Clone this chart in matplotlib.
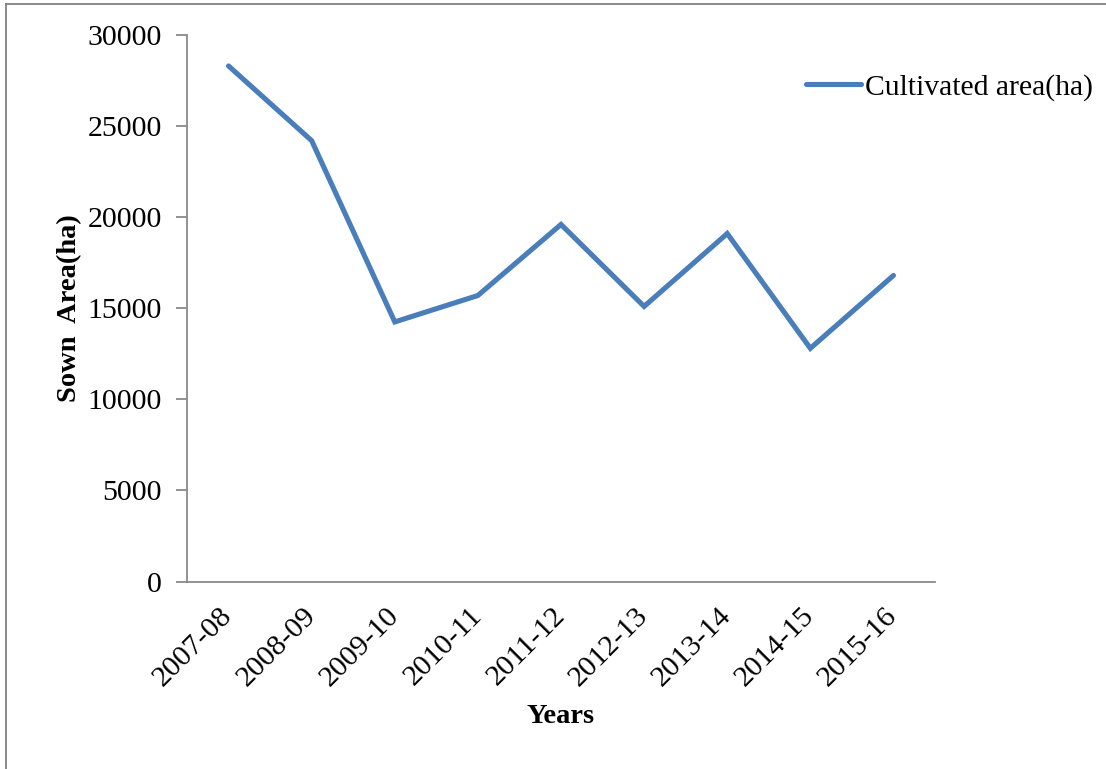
import matplotlib
matplotlib.use('Agg')
import matplotlib.pyplot as plt
from matplotlib.lines import Line2D

plt.rcParams['font.family'] = 'Liberation Serif'
plt.rcParams['font.size'] = 21.5

years = ['2007-08', '2008-09', '2009-10', '2010-11', '2011-12',
         '2012-13', '2013-14', '2014-15', '2015-16']
area = [28300, 24200, 14250, 15700, 19600, 15100, 19100, 12800, 16800]

W, H = 1106, 769
fig = plt.figure(figsize=(W / 100, H / 100), dpi=100)
ax = fig.add_axes([187 / W, 1 - 581.5 / H, (935 - 187) / W, (581.5 - 35) / H])

x = range(len(years))
ax.plot(x, area, color='#4A7EBB', lw=3.7, solid_joinstyle='miter',
        solid_capstyle='round', label='Cultivated area(ha)')

ax.set_xlim(-0.5, len(years) - 0.5)
ax.set_ylim(0, 30000)
ax.set_yticks(range(0, 30001, 5000))
ax.set_xticks(list(x))
ax.set_xticklabels(years, rotation=45, ha='right', va='center',
                   rotation_mode='anchor')

for side in ['top', 'right']:
    ax.spines[side].set_visible(False)
for side in ['left', 'bottom']:
    ax.spines[side].set_color('#898989')
    ax.spines[side].set_linewidth(1.3)
ax.tick_params(axis='y', length=8, width=1.3, color='#898989', pad=10)
ax.tick_params(axis='x', length=0, pad=22)

ax.set_ylabel('Sown  Area(ha)', fontweight='bold', fontsize=20.5, labelpad=4)
ax.set_xlabel('Years', fontweight='bold', fontsize=20.5, labelpad=9)

fig.legend(loc='center left', bbox_to_anchor=(806 / W, 1 - 87 / H),
           frameon=False, borderpad=0, borderaxespad=0,
           handlelength=1.85, handletextpad=0.15, fontsize=21.3)

# outline left and top edges of the chart area
fig.add_artist(Line2D([6 / W, 6 / W], [0, 1 - 4 / H], color='#808080',
                      lw=1.3, transform=fig.transFigure))
fig.add_artist(Line2D([6 / W, 1], [1 - 4 / H, 1 - 4 / H], color='#808080',
                      lw=1.3, transform=fig.transFigure))

fig.savefig('out.png', dpi=100)
